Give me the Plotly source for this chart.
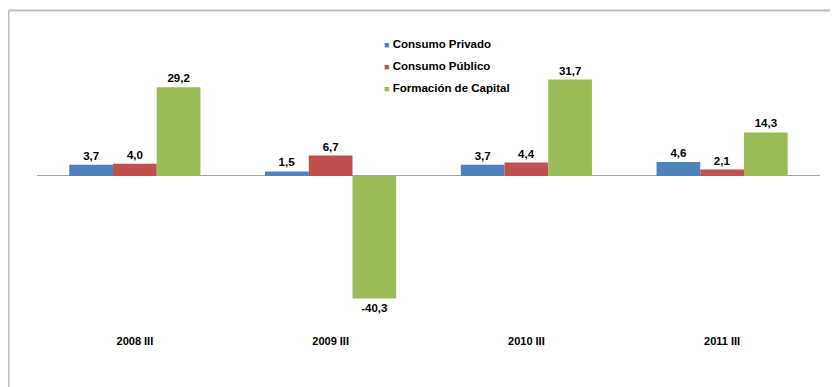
import plotly.graph_objects as go

categories = ["2008 III", "2009 III", "2010 III", "2011 III"]
series_names = ["Consumo Privado", "Consumo Público", "Formación de Capital"]
consumo_privado = [3.7, 1.5, 3.7, 4.6]
consumo_publico = [4.0, 6.7, 4.4, 2.1]
formacion_capital = [29.2, -40.3, 31.7, 14.3]
colors = ["#4F81BD", "#C0504D", "#9BBB59"]

FONT = "Liberation Sans, Arial, sans-serif"

def fmt(v):
    return f"{v:.1f}".replace(".", ",")

fig = go.Figure()
for name, vals, col in zip(series_names, [consumo_privado, consumo_publico, formacion_capital], colors):
    fig.add_trace(go.Bar(
        x=categories, y=vals, name=name,
        marker=dict(color=col, line=dict(width=0)),
        text=[fmt(v) for v in vals], textposition="outside",
        textfont=dict(family=FONT, size=11.5, color="#000000"),
        texttemplate="<b>%{text}</b>", cliponaxis=False,
        showlegend=False,
    ))

# legend as annotations
leg_y = [0.986, 0.910, 0.833]
for name, col, yy in zip(series_names, colors, leg_y):
    fig.add_annotation(
        xref="paper", yref="paper", x=0.441, y=yy, xanchor="left", yanchor="middle",
        showarrow=False,
        text=f"<span style='color:{col};font-size:9px'>■</span> <b>{name}</b>",
        font=dict(family=FONT, size=11.5, color="#000000"),
    )

# outer frame (top and left visible)
fig.add_shape(type="line", xref="paper", yref="paper", x0=-0.0364, x1=1.05, y0=1.1024, y1=1.1024,
              line=dict(color="#BDBDBD", width=2))
fig.add_shape(type="line", xref="paper", yref="paper", x0=-0.0364, x1=-0.0364, y0=1.1024, y1=-0.25,
              line=dict(color="#BDBDBD", width=2))

fig.update_layout(
    width=838, height=387,
    margin=dict(l=29, r=26, t=32, b=67),
    paper_bgcolor="white", plot_bgcolor="white",
    barmode="group", bargap=0.33, bargroupgap=0,
    font=dict(family=FONT, size=11, color="#000000"),
    xaxis=dict(showgrid=False, showline=False, ticks="", ticklabelstandoff=5,
               tickfont=dict(family=FONT, size=11, color="#000000"),
               tickprefix="<b>", ticksuffix="</b>"),
    yaxis=dict(range=[-50, 44.7], showgrid=False, showticklabels=False, zeroline=True,
               zerolinecolor="#A6A6A6", zerolinewidth=1, showline=False),
)

fig.write_html("out.html")
